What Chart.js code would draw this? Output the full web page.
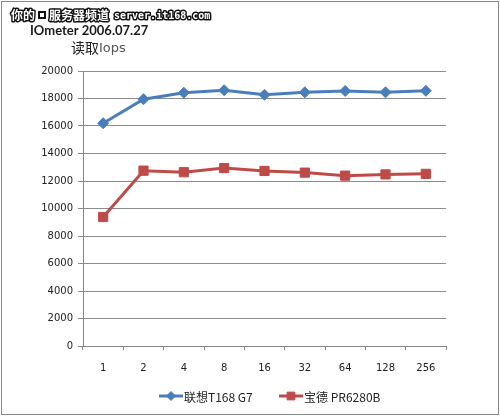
<!DOCTYPE html>
<html><head><meta charset="utf-8">
<script src="https://cdn.jsdelivr.net/npm/chart.js@4.4.0/dist/chart.umd.min.js"></script>
<style>html,body{margin:0;padding:0;background:#fff;}#wrap{width:500px;height:416px;position:relative;}</style>
</head><body><div id="wrap"><canvas id="c" width="500" height="416"></canvas></div>
<script>
const categories = ['1','2','4','8','16','32','64','128','256'];
const lenovoValues = [16200, 17950, 18420, 18600, 18270, 18450, 18550, 18450, 18560];
const powerleaderValues = [9380, 12750, 12640, 12940, 12730, 12610, 12390, 12480, 12520];
const seriesNames = ['联想T168 G7', '宝德 PR6280B'];
const watermark = ['你的', '服务器频道', 'server.it168.com'];
const titleText = 'IOmeter 2006.07.27';
const subTitle = ['读取', 'Iops'];

const decor = {
  id: 'decor',
  afterDraw(chart) {
    const ctx = chart.ctx;
    ctx.save();
    ctx.strokeStyle = '#8a8a8a'; ctx.lineWidth = 1;
    ctx.strokeRect(1.5, 1.5, 497, 413);
    ctx.textBaseline = 'middle';
    ctx.lineJoin = 'round';
    const drawOutlined = (t, x, y) => {
      ctx.lineWidth = 3; ctx.strokeStyle = '#111'; ctx.strokeText(t, x, y);
      ctx.fillStyle = '#fff'; ctx.fillText(t, x, y);
    };
    ctx.font = 'bold 12px "Noto Sans CJK SC"';
    drawOutlined(watermark[0], 11, 15);
    ctx.fillStyle = '#111'; ctx.fillRect(38, 11, 8, 8);
    ctx.fillStyle = '#fff'; ctx.fillRect(40, 13, 4, 4);
    drawOutlined(watermark[1], 49, 15);
    ctx.font = 'bold 10px "DejaVu Sans Mono"';
    drawOutlined(watermark[2], 114, 16);
    ctx.fillStyle = '#1a1a1a';
    ctx.font = 'bold 13px Lato';
    ctx.fillText(titleText, 30, 31);
    ctx.font = '14px "Noto Sans CJK SC"';
    ctx.fillStyle = '#222';
    ctx.fillText(subTitle[0], 71, 48);
    const w0 = ctx.measureText(subTitle[0]).width;
    ctx.font = '13px "DejaVu Sans"';
    ctx.fillStyle = '#555';
    ctx.fillText(subTitle[1], 71 + w0, 49);
    const positions = [159, 279];
    chart.data.datasets.forEach((ds, i) => {
      const x = positions[i], y = 396;
      ctx.strokeStyle = ds.borderColor; ctx.lineWidth = 3;
      ctx.beginPath(); ctx.moveTo(x, y); ctx.lineTo(x + 24, y); ctx.stroke();
      ctx.fillStyle = ds.backgroundColor;
      ctx.strokeStyle = ds.borderColor;
      ctx.lineWidth = 1;
      Chart.helpers.drawPoint(ctx, {pointStyle: ds.pointStyle, radius: ds.pointRadius - 1, borderWidth: 1}, x + 12, y);
      ctx.fillStyle = '#222';
      ctx.font = '12px "Noto Sans CJK SC"';
      ctx.fillText(ds.label, x + 25, y + 1);
    });
    ctx.restore();
  }
};

new Chart(document.getElementById('c'), {
  type: 'line',
  data: {
    labels: categories,
    datasets: [
      { label: seriesNames[0], data: lenovoValues, borderColor: '#4A7EBB', backgroundColor: '#4A7EBB',
        borderWidth: 3, pointStyle: 'rectRot', pointRadius: 5.5, pointHoverRadius: 5.5, pointBorderWidth: 1, tension: 0 },
      { label: seriesNames[1], data: powerleaderValues, borderColor: '#BE4B48', backgroundColor: '#BE4B48',
        borderWidth: 3, pointStyle: 'rect', pointRadius: 6.5, pointHoverRadius: 6.5, pointBorderWidth: 1, tension: 0 }
    ]
  },
  options: {
    responsive: false, animation: false,
    layout: { padding: { top: 71, right: 54, left: 0, bottom: 0 } },
    plugins: { legend: { display: false }, title: { display: false }, tooltip: { enabled: false } },
    scales: {
      x: {
        offset: true,
        grid: { offset: true, drawOnChartArea: false, drawTicks: true, tickLength: 4, color: '#868686' },
        border: { color: '#868686', width: 1 },
        ticks: { color: '#222', font: { family: 'DejaVu Sans', size: 10 }, padding: 12, maxRotation: 0 },
        afterFit(s) { s.height = 70; }
      },
      y: {
        min: 0, max: 20000,
        grid: { color: '#8c8c8c', tickLength: 5 },
        border: { color: '#868686', width: 1 },
        ticks: { stepSize: 2000, color: '#222', font: { family: 'DejaVu Sans', size: 10 }, padding: 5,
          callback: v => String(v) },
        afterFit(s) { s.width = 83; }
      }
    }
  },
  plugins: [decor]
});
</script></body></html>
